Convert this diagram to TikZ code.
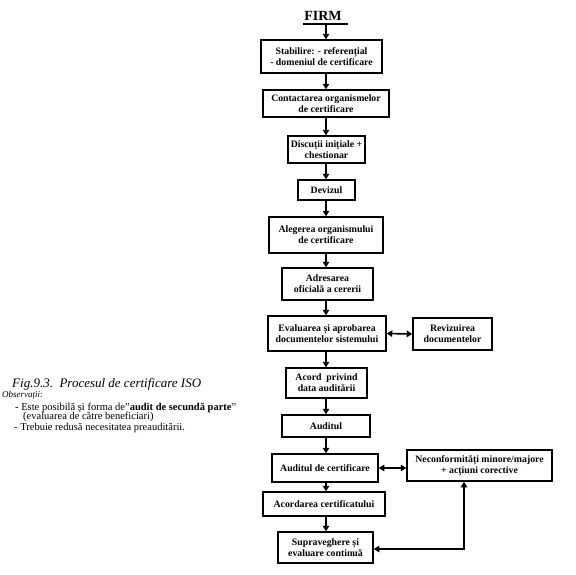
\documentclass[tikz,border=0pt]{standalone}
\usepackage{fontspec}
\setmainfont{Liberation Serif}
\usetikzlibrary{arrows.meta}
\tikzset{
  box/.style={draw, line width=1.5pt, inner sep=0pt, align=center,
    font=\fontsize{9.8}{11}\selectfont\bfseries},
  flow/.style={line width=1.6pt, -{Triangle[length=5.5pt,width=6.5pt]}},
  flowboth/.style={line width=1.6pt, {Triangle[length=5.5pt,width=6.5pt]}-{Triangle[length=5.5pt,width=6.5pt]}},
  note/.style={anchor=base west, inner sep=0pt, font=\fontsize{10.5}{11}\selectfont}
}
\begin{document}
\begin{tikzpicture}[x=1pt,y=-1pt]
\useasboundingbox (0,0) rectangle (576,574);
\node[inner sep=0pt, font=\fontsize{14}{15}\selectfont\bfseries] (firm) at (323,16) {FIRM};
\coordinate (ulL) at (303,24);
\coordinate (ulR) at (348,24);
\draw[line width=1.2pt] (ulL) -- (ulR);
\coordinate (top) at (326,24);

\node[box, minimum width=121pt, minimum height=33pt] (b1) at (321.5,56.5) {Stabilire: - referențial\\ - domeniul de certificare};
\node[box, minimum width=126pt, minimum height=27pt] (b2) at (326,103.5) {Contactarea organismelor\\de certificare};
\node[box, minimum width=77pt, minimum height=27pt] (b3) at (326.5,149.5) {Discuții inițiale +\\chestionar};
\node[box, minimum width=57pt, minimum height=20pt] (b4) at (326.5,190) {Devizul};
\node[box, minimum width=114pt, minimum height=36pt] (b5) at (326,235) {Alegerea organismului\\de certificare};
\node[box, minimum width=91pt, minimum height=32pt] (b6) at (327.5,284) {Adresarea\\oficială a cererii};
\node[box, minimum width=118pt, minimum height=35pt] (b7) at (327,333.5) {Evaluarea și aprobarea\\documentelor sistemului};
\node[box, minimum width=79pt, minimum height=32pt] (rev) at (452.5,334) {Revizuirea\\documentelor};
\node[box, minimum width=81pt, minimum height=30pt] (b8) at (326.5,383) {Acord\ \ privind\\data auditării};
\node[box, minimum width=88pt, minimum height=22pt] (b9) at (326,426) {Auditul};
\node[box, minimum width=106pt, minimum height=28pt] (b10) at (325,468) {Auditul de certificare};
\node[box, minimum width=145pt, minimum height=31pt] (nec) at (479.5,465.5) {Neconformități minore/majore\\+ acțiuni corective};
\node[box, minimum width=122pt, minimum height=24pt] (b11) at (324,504) {Acordarea certificatului};
\node[box, minimum width=95pt, minimum height=31pt] (b12) at (325.5,547.5) {Supraveghere și\\evaluare continuă};

\coordinate (col) at (326,0);
\draw[flow] (top) -- (b1.north -| col);
\foreach \a/\b in {b1/b2,b2/b3,b3/b4,b4/b5,b5/b6,b6/b7,b7/b8,b8/b9,b9/b10,b10/b11,b11/b12}
  \draw[flow] (\a.south -| col) -- (\b.north -| col);
\draw[flowboth] (b7.east) -- (rev.west);
\draw[flowboth] (b10.east) -- (b10.east -| nec.west);
\coordinate (loopx) at (464,549);
\draw[flowboth] (b12.east |- loopx) -- (loopx) -- (loopx |- nec.south);

\node[anchor=base west, inner sep=0pt, font=\fontsize{13}{14}\selectfont\itshape] (cap) at (12,387) {Fig.9.3.\ \ Procesul de certificare ISO};
\node[anchor=base west, inner sep=0pt, font=\fontsize{9}{10}\selectfont\itshape] (obs) at (2,397) {Observații:};
\node[note] (n1) at (15,410) {- Este posibilă și forma de”\textbf{audit de secundă parte}”};
\node[note] (n2) at (23,419) {(evaluarea de către beneficiari)};
\node[note] (n3) at (14,430) {- Trebuie redusă necesitatea preauditării.};
\end{tikzpicture}
\end{document}
